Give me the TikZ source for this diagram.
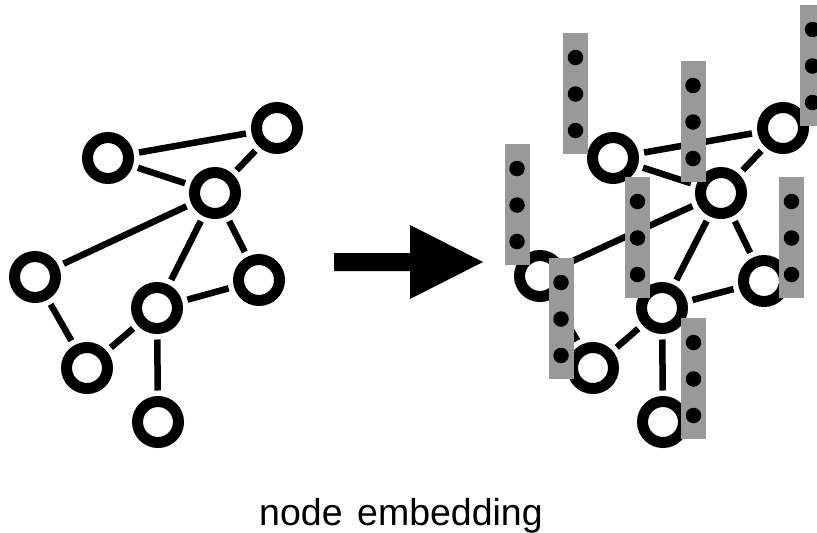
\documentclass[tikz,border=0pt]{standalone}
\usepackage{fontspec}
\setmainfont{Liberation Sans}
\newfontfamily\capfont[WordSpace=1.4]{Liberation Sans}
\definecolor{bargray}{RGB}{153,153,153}
\tikzset{
  gnode/.style={circle, draw=black, line width=11pt, inner sep=0pt, minimum size=41pt, fill=white},
  gedge/.style={line width=6.5pt, shorten >=5.5pt, shorten <=5.5pt},
  embbar/.style={fill=bargray, draw=none, minimum width=25pt, minimum height=121pt, inner sep=0pt, anchor=north},
  dotmark/.style={circle, fill=black, minimum size=15.5pt, inner sep=0pt}
}
\newcommand{\embvec}[3]{%
  \node[embbar] (#1) at (#2,#3) {};
  \node[dotmark] (#1d1) at ([yshift=-24.5pt]#1.north) {};
  \node[dotmark] (#1d2) at ([yshift=-61pt]#1.north) {};
  \node[dotmark] (#1d3) at ([yshift=-97.5pt]#1.north) {};
}
\begin{document}
\begin{tikzpicture}[x=1pt,y=-1pt]
\useasboundingbox (0,0) rectangle (817,533);
% left graph
\node[gnode] (a1) at (108,158) {};
\node[gnode] (b1) at (277,128) {};
\node[gnode] (c1) at (215,193) {};
\node[gnode] (d1) at (35,277) {};
\node[gnode] (e1) at (259,280) {};
\node[gnode] (f1) at (157,308) {};
\node[gnode] (g1) at (87,368) {};
\node[gnode] (h1) at (158,422) {};
\foreach \u/\v in {a1/b1,a1/c1,b1/c1,c1/d1,c1/f1,c1/e1,d1/g1,g1/f1,f1/e1,f1/h1}
  \draw[gedge] (\u) -- (\v);
% right graph
\node[gnode] (a2) at (613,158) {};
\node[gnode] (b2) at (783,128) {};
\node[gnode] (c2) at (721,193) {};
\node[gnode] (d2) at (540,276) {};
\node[gnode] (e2) at (764,281) {};
\node[gnode] (f2) at (662,308) {};
\node[gnode] (g2) at (593,368) {};
\node[gnode] (h2) at (663,422) {};
\foreach \u/\v in {a2/b2,a2/c2,b2/c2,c2/d2,c2/f2,c2/e2,d2/g2,g2/f2,f2/e2,f2/h2}
  \draw[gedge] (\u) -- (\v);
% embedding bars
\embvec{v1}{575.5}{33}
\embvec{v2}{693}{61}
\embvec{v3}{812.5}{5}
\embvec{v4}{517}{144}
\embvec{v5}{637.5}{177}
\embvec{v6}{791.5}{177}
\embvec{v7}{561}{258}
\embvec{v8}{693.5}{318}
% big arrow
\fill[black] (334,253) -- (410,253) -- (410,225) -- (483,262) -- (410,299) -- (410,271) -- (334,271) -- cycle;
% caption
\node[anchor=base, inner sep=0pt, font=\capfont\fontsize{37.5}{44}\selectfont] (cap) at (401,525.5) {node embedding};
\end{tikzpicture}
\end{document}
